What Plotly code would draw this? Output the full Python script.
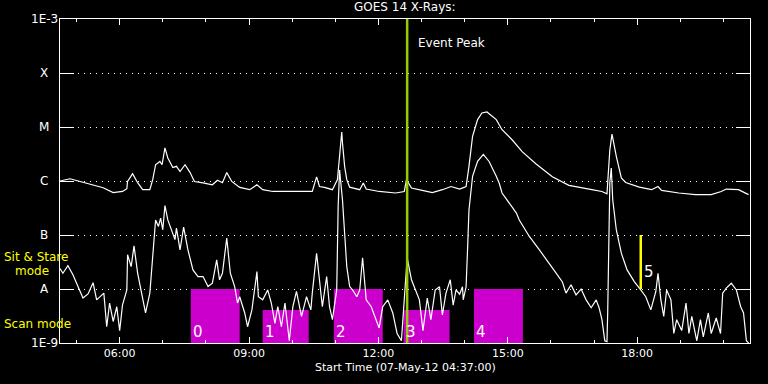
import plotly.graph_objects as go

DATE = "2012-05-07 "

# GOES 14 long channel (1-8 A)
long_time = ["04:37","04:51","05:05","05:23","05:37","05:51","06:04","06:10","06:11","06:18","06:25","06:32","06:42","06:46",
             "06:50","06:56","06:59","07:03","07:07","07:14","07:19","07:24","07:31","07:38","07:44","07:56","08:09","08:16",
             "08:23","08:29","08:36","08:47","09:01","09:11","09:19","09:33","09:56","10:20","10:28","10:34","10:38","10:45",
             "10:56","11:03","11:09","11:10","11:13","11:16","11:20","11:34","11:39","11:43","12:01","12:24","12:36","12:39",
             "12:46","13:01","13:15","13:29","13:41","13:53","14:02","14:06","14:11","14:18","14:24","14:31","14:44","14:52",
             "15:06","15:20","15:39","16:02","16:25","16:57","17:11","17:18","17:22","17:25","17:31","17:38","17:44","18:03",
             "18:20","18:29","18:34","18:58","19:21","19:43","19:57","20:04","20:21","20:35"]
long_flux = [1.0e-6,1.1e-6,9.8e-7,8.5e-7,7.5e-7,6.1e-7,6.4e-7,7.2e-7,9.8e-7,1.37e-6,9.3e-7,6.9e-7,6.9e-7,1.06e-6,
             2.0e-6,2.3e-6,2.0e-6,4.1e-6,2.67e-6,1.77e-6,1.87e-6,1.5e-6,2.0e-6,1.43e-6,9.8e-7,9.2e-7,8.5e-7,1.03e-6,
             9.3e-7,1.43e-6,9.8e-7,7.6e-7,6.9e-7,8.5e-7,6.9e-7,6.4e-7,6.4e-7,6.6e-7,6.4e-7,1.19e-6,7.9e-7,7.6e-7,
             6.9e-7,1.06e-6,8.1e-6,5.1e-6,1.87e-6,1.06e-6,7.7e-7,6.9e-7,9.2e-7,7.1e-7,6.4e-7,6.0e-7,6.4e-7,1.06e-6,
             7.4e-7,6.7e-7,6.1e-7,6.9e-7,7.9e-7,7.1e-7,7.9e-7,1.87e-6,6.7e-6,1.37e-5,1.82e-5,1.9e-5,1.37e-5,8.9e-6,
             5.8e-6,3.5e-6,2.09e-6,1.2e-6,8.3e-7,6.9e-7,6.4e-7,5.8e-7,3.8e-6,7.4e-6,2.86e-6,1.14e-6,9.4e-7,7.7e-7,
             6.9e-7,7.9e-7,6.7e-7,6.0e-7,5.6e-7,5.6e-7,6.4e-7,7.1e-7,6.9e-7,5.6e-7]

# GOES 14 short channel (0.5-4 A)
short_time = ["04:37","04:41","04:48","04:55","05:02","05:09","05:16","05:23","05:28","05:33","05:38","05:42","05:46","05:51",
              "05:56","06:00","06:04","06:10","06:11","06:16","06:20","06:25","06:32","06:36","06:42","06:46","06:50","06:54",
              "06:57","07:00","07:03","07:07","07:13","07:17","07:19","07:24","07:29","07:35","07:42","07:49","07:56","08:03",
              "08:09","08:15","08:19","08:23","08:29","08:34","08:40","08:44","08:47","08:54","08:58","09:04","09:11","09:13",
              "09:19","09:26","09:31","09:36","09:40","09:45","09:50","09:56","10:01","10:06","10:13","10:20","10:26","10:28",
              "10:34","10:38","10:42","10:48","10:52","10:56","11:02","11:04","11:06","11:10","11:13","11:16","11:20","11:24",
              "11:30","11:34","11:38","11:43","11:50","11:57","12:01","12:06","12:13","12:20","12:26","12:32","12:36","12:40",
              "12:46","12:53","12:57","13:02","13:08","13:13","13:19","13:25","13:29","13:34","13:40","13:44","13:48","13:53",
              "13:57","13:58","14:02","14:04","14:06","14:11","14:18","14:26","14:34","14:44","14:48","14:52","15:02","15:12",
              "15:16","15:30","15:44","15:58","16:04","16:16","16:21","16:28","16:35","16:42","16:49","16:56","17:03","17:07",
              "17:11","17:15","17:18","17:19","17:22","17:24","17:26","17:31","17:38","17:46","17:56","18:05","18:12","18:19",
              "18:26","18:29","18:33","18:37","18:41","18:47","18:51","18:55","19:02","19:08","19:12","19:16","19:23","19:28",
              "19:32","19:39","19:43","19:50","19:56","19:59","20:04","20:11","20:18","20:24","20:28","20:32","20:35"]
short_flux = [2.4e-8,1.96e-8,2.7e-8,1.83e-8,1.11e-8,6.8e-9,8.1e-9,1.31e-8,6.3e-9,7.2e-9,8.4e-9,2.0e-9,5.5e-9,2.5e-9,
              4.7e-9,1.7e-9,5.1e-9,9.6e-9,4.3e-8,2.6e-8,6.3e-8,1.96e-8,6.3e-9,3.6e-9,8.4e-9,3.46e-8,1.9e-7,1.44e-7,
              2.06e-7,1.25e-7,3.5e-7,1.9e-7,1.08e-7,8.2e-8,1.34e-7,5.3e-8,1.4e-7,5.3e-8,2.26e-8,1.7e-8,1.7e-8,1.11e-8,
              1.28e-8,3.46e-8,1.48e-8,1.96e-8,8.8e-8,1.96e-8,1.11e-8,5.5e-9,7.2e-9,3.6e-9,2.0e-9,4.1e-9,2.1e-8,7.2e-9,
              6.3e-9,9.6e-9,5.5e-9,2.3e-9,4.7e-9,2.0e-9,5.5e-9,1.1e-9,4.7e-9,9.0e-9,3.1e-9,7.2e-9,4.1e-9,8.4e-9,
              4.6e-8,1.48e-8,4.7e-9,1.7e-8,4.7e-9,2.7e-9,9.6e-9,3.4e-7,1.6e-6,4.5e-7,8.2e-8,2.6e-8,1.11e-8,9.6e-9,
              7.2e-9,9.6e-9,3.8e-8,6.3e-9,4.7e-9,2.7e-9,1.9e-9,4.7e-9,6.3e-9,3.6e-9,1.5e-9,1.1e-9,7.2e-9,3.8e-8,
              1.48e-8,8.5e-9,6.3e-9,1.7e-9,6.8e-9,2.7e-9,9.6e-9,1.1e-8,3.3e-9,8.4e-9,1.48e-8,5.0e-9,9.6e-9,8.0e-9,
              1.1e-8,6.3e-9,1.1e-8,5.3e-8,2.9e-7,1.22e-6,2.31e-6,3.1e-6,2.3e-6,1.22e-6,9.2e-7,6.0e-7,3.9e-7,2.55e-7,
              1.9e-7,9.4e-8,5.3e-8,3.0e-8,2.26e-8,1.35e-8,8.4e-9,1.2e-8,7.8e-9,1.0e-8,6.3e-9,4.5e-9,6.3e-9,4.5e-9,
              2.7e-9,1.1e-9,1.06e-9,3.6e-9,9.3e-7,1.74e-6,4.5e-7,1.25e-7,4.6e-8,2.26e-8,1.37e-8,9.6e-9,7.2e-9,4.1e-9,
              9.0e-9,1.96e-8,6.3e-9,3.1e-9,9.6e-9,6.3e-9,1.5e-9,2.7e-9,1.7e-9,5.5e-9,1.5e-9,3.1e-9,1.1e-9,2.7e-9,
              1.3e-9,3.6e-9,1.5e-9,2.9e-9,1.5e-9,8.4e-9,1.04e-8,1.28e-8,9.6e-9,4.7e-9,3.6e-9,1.1e-9,1.0e-9]

# Observation scans
scan_start = ["07:39", "09:19", "10:58", "12:35", "14:13"]
scan_end = ["08:47", "10:23", "12:06", "13:39", "15:21"]
scan_top = [1.0e-8, 4.1e-9, 1.0e-8, 4.1e-9, 1.0e-8]
scan_labels = ["0", "1", "2", "3", "4"]

event_peak_time = "12:40"
marker5_time = "18:05"
marker5_flux = [1.0e-8, 1.0e-7]
marker5_label = "5"

ytick_vals = [1e-9, 1e-8, 1e-7, 1e-6, 1e-5, 1e-4, 1e-3]
ytick_text = ["1E-9", "A", "B", "C", "M", "X", "1E-3"]
ytick_exp = [-9, -8, -7, -6, -5, -4, -3]

FONT = "DejaVu Sans"
fig = go.Figure()

for s, e, top in zip(scan_start, scan_end, scan_top):
    fig.add_trace(go.Scatter(
        x=[DATE + s, DATE + s, DATE + e, DATE + e, DATE + s],
        y=[1e-9, top, top, 1e-9, 1e-9],
        mode="lines", fill="toself", fillcolor="#cc00cc",
        line=dict(width=0, color="#cc00cc"), hoverinfo="skip"))

fig.add_trace(go.Scatter(x=[DATE + t for t in long_time], y=long_flux, mode="lines",
                         line=dict(color="white", width=1.2)))
fig.add_trace(go.Scatter(x=[DATE + t for t in short_time], y=short_flux, mode="lines",
                         line=dict(color="white", width=1.2)))

fig.add_trace(go.Scatter(x=[DATE + event_peak_time] * 2, y=[1e-9, 1e-3], mode="lines",
                         line=dict(color="#99cc00", width=2.5)))
fig.add_trace(go.Scatter(x=[DATE + marker5_time] * 2, y=marker5_flux, mode="lines",
                         line=dict(color="#ffff00", width=2.5)))

ann = []
for v, t in zip(ytick_exp, ytick_text):
    ann.append(dict(x=-0.023, xref="paper", y=v, yref="y", text=t, showarrow=False,
                    xanchor="center", yanchor="middle", font=dict(size=12, color="white", family=FONT)))
for s, lab in zip(scan_start, scan_labels):
    ann.append(dict(x=DATE + s, xref="x", y=0.034, yref="paper", text=lab, showarrow=False,
                    xanchor="left", yanchor="middle", xshift=0,
                    font=dict(size=15, color="white", family=FONT)))
ann.append(dict(x=DATE + marker5_time, xref="x", y=0.22, yref="paper", text=marker5_label, showarrow=False,
                xanchor="left", yanchor="middle", xshift=1, font=dict(size=15, color="white", family=FONT)))
ann.append(dict(x=DATE + event_peak_time, xref="x", y=0.927, yref="paper", text="Event Peak", showarrow=False,
                xanchor="left", yanchor="middle", xshift=9, font=dict(size=12, color="white", family=FONT)))
ann.append(dict(x=-0.0841, xref="paper", y=0.266, yref="paper", text="Sit & Stare", showarrow=False,
                xanchor="left", yanchor="middle", font=dict(size=12, color="#ffff00", family=FONT)))
ann.append(dict(x=-0.0681, xref="paper", y=0.222, yref="paper", text="mode", showarrow=False,
                xanchor="left", yanchor="middle", font=dict(size=12, color="#ffff00", family=FONT)))
ann.append(dict(x=-0.0841, xref="paper", y=0.059, yref="paper", text="Scan mode", showarrow=False,
                xanchor="left", yanchor="middle", font=dict(size=12, color="#ffff00", family=FONT)))
ann.append(dict(x=0.5, xref="paper", y=1.036, yref="paper", text="GOES 14 X-Rays:", showarrow=False,
                xanchor="center", yanchor="middle", font=dict(size=12, color="white", family=FONT)))
ann.append(dict(x=0.5, xref="paper", y=-0.077, yref="paper", text="Start Time (07-May-12 04:37:00)",
                showarrow=False, xanchor="center", yanchor="middle",
                font=dict(size=11, color="white", family=FONT)))

fig.update_layout(
    width=768, height=384, paper_bgcolor="black", plot_bgcolor="black",
    margin=dict(l=60, r=18, t=19, b=41), showlegend=False,
    font=dict(family=FONT, color="white", size=11), annotations=ann)

fig.update_xaxes(
    type="date", range=[DATE + "04:37", DATE + "20:37"],
    showline=True, linecolor="white", linewidth=1, mirror="ticks",
    ticks="inside", ticklen=6, tickcolor="white", tickwidth=1,
    tick0=DATE + "00:00", dtick=3 * 3600 * 1000, tickformat="%H:%M",
    tickfont=dict(size=11, color="white", family=FONT),
    showgrid=False, zeroline=False,
    minor=dict(dtick=3600 * 1000, ticks="inside", ticklen=3, tickcolor="white", showgrid=False))

fig.update_yaxes(
    type="log", range=[-9, -3],
    showline=True, linecolor="white", linewidth=1, mirror="ticks",
    ticks="inside", ticklen=14, tickcolor="white", tickwidth=1,
    tickvals=ytick_vals, showticklabels=False,
    showgrid=True, gridcolor="white", gridwidth=1, griddash="1px,5px", zeroline=False)

fig.write_html("out.html", config={"displayModeBar": False},
               post_script="document.body.style.margin='0';document.body.style.background='black';")
